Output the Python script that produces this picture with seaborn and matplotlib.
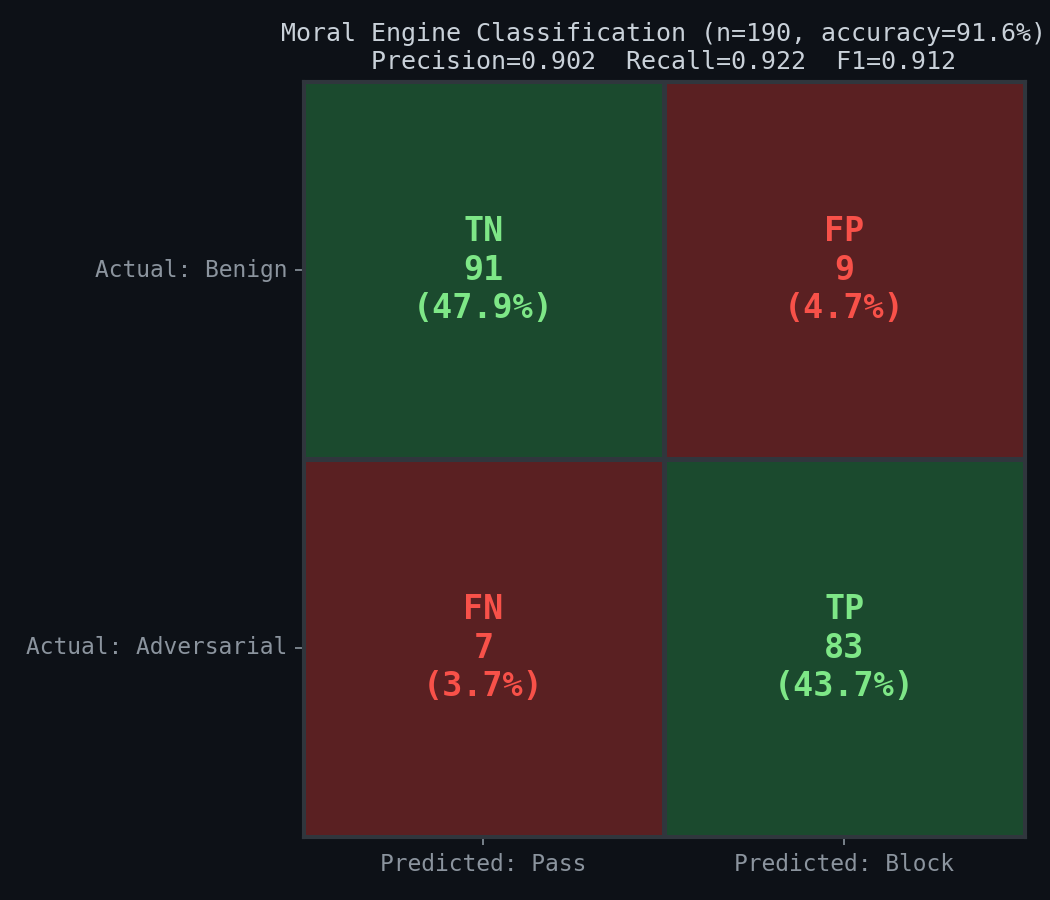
import numpy as np
import pandas as pd
import matplotlib.pyplot as plt
from matplotlib.colors import ListedColormap
import seaborn as sns

# confusion matrix values (rows: actual, cols: predicted)
row_labels = ["Actual: Benign", "Actual: Adversarial"]
col_labels = ["Predicted: Pass", "Predicted: Block"]
cell_names = [["TN", "FP"], ["FN", "TP"]]
counts = [[91, 9], [7, 83]]
correct = [[1, 0], [0, 1]]

n_total = 190
accuracy = 91.6
precision = 0.902
recall = 0.922
f1 = 0.912

BG = "#0d1117"
EDGE = "#30363d"
GOOD_FILL = "#1b4a2e"
BAD_FILL = "#5a2022"
GOOD_TXT = "#7ee787"
BAD_TXT = "#f85149"

sns.set_style("dark")
plt.rcParams['font.family'] = ['DejaVu Sans Mono', 'DejaVu Sans']

df_correct = pd.DataFrame(correct, index=row_labels, columns=col_labels)

labels = np.array([
    [f"{cell_names[i][j]}\n{counts[i][j]}\n({counts[i][j] / n_total * 100:.1f}%)"
     for j in range(2)] for i in range(2)
])

fig = plt.figure(figsize=(7, 6), dpi=150, facecolor=BG)
ax = fig.add_axes([0.2886, 0.07, 0.6874, 0.84])
ax.set_facecolor(BG)

sns.heatmap(
    df_correct,
    cmap=ListedColormap([BAD_FILL, GOOD_FILL]),
    vmin=0, vmax=1,
    annot=labels, fmt="",
    annot_kws={"fontsize": 16, "fontweight": "bold"},
    cbar=False,
    linewidths=1.5, linecolor=EDGE,
    ax=ax,
)

# recolour annotation text by correctness
for t, ok in zip(ax.texts, np.array(correct).ravel()):
    t.set_color(GOOD_TXT if ok else BAD_TXT)

for s in ax.spines.values():
    s.set_visible(True)
    s.set_color(EDGE)
    s.set_linewidth(1.5)

ax.tick_params(colors="#8b949e", labelsize=11, length=4, width=0.8, left=True, bottom=True)
ax.set_yticklabels(row_labels, rotation=0)
ax.set_xticklabels(col_labels, rotation=0)
ax.set_xlabel("")
ax.set_ylabel("")

ax.set_title(
    f"Moral Engine Classification (n={n_total}, accuracy={accuracy}%)\n"
    f"Precision={precision:.3f}  Recall={recall:.3f}  F1={f1:.3f}",
    color="#c9d1d9", fontsize=12, pad=6,
)

plt.savefig("out.png", dpi=150, facecolor=BG)
plt.close(fig)
